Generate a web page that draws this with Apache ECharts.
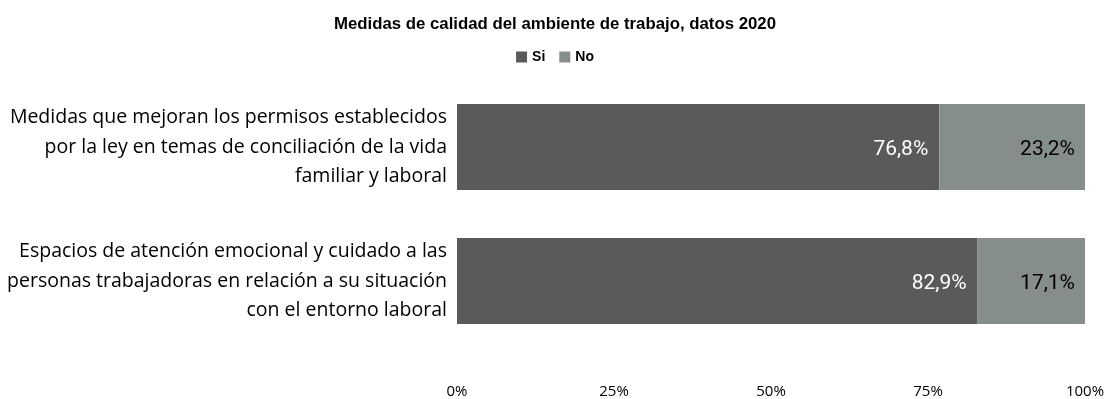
<!DOCTYPE html>
<html>
<head>
<meta charset="utf-8">
<script src="https://cdn.jsdelivr.net/npm/echarts@6/dist/echarts.min.js"></script>
<style>
  html, body { margin: 0; padding: 0; background: #ffffff; }
  #chart { width: 1110px; height: 399px; }
</style>
</head>
<body>
<div id="chart"></div>
<script>
// Categories (top to bottom) and shares per answer
const categories = [
  'Medidas que mejoran los permisos establecidos\npor la ley en temas de conciliación de la vida\nfamiliar y laboral',
  'Espacios de atención emocional y cuidado a las\npersonas trabajadoras en relación a su situación\ncon el entorno laboral'
];
const siValues = [76.8, 82.9];
const noValues = [23.2, 17.1];
const tickValues = [0, 25, 50, 75, 100];

const fmt = v => v.toFixed(1).replace('.', ',') + '%';

const chart = echarts.init(document.getElementById('chart'), null, { renderer: 'canvas' });

chart.setOption({
  animation: false,
  title: {
    text: 'Medidas de calidad del ambiente de trabajo, datos 2020',
    left: 'center',
    top: 11,
    textStyle: { fontFamily: 'Liberation Sans', fontWeight: 'bold', fontSize: 16.8, color: '#000' }
  },
  legend: {
    top: 45,
    left: 'center',
    itemWidth: 11,
    itemHeight: 11,
    itemGap: 14,
    icon: 'rect',
    textStyle: { fontFamily: 'Liberation Sans', fontWeight: 'bold', fontSize: 14, color: '#000' },
    data: ['Si', 'No']
  },
  grid: { left: 457, right: 25, top: 80, bottom: 46, containLabel: false },
  xAxis: {
    type: 'value',
    min: 0,
    max: 100,
    interval: 25,
    axisLine: { show: false },
    axisTick: { show: false },
    splitLine: { show: false },
    axisLabel: {
      margin: 36,
      fontFamily: 'Open Sans',
      fontSize: 15,
      color: '#000',
      customValues: tickValues,
      formatter: v => v + '%'
    }
  },
  yAxis: {
    type: 'category',
    inverse: true,
    data: categories,
    axisLine: { show: false },
    axisTick: { show: false },
    axisLabel: {
      margin: 10,
      fontFamily: 'Open Sans',
      fontSize: 19.5,
      lineHeight: 29.5,
      color: '#000',
      align: 'right'
    }
  },
  series: [
    {
      name: 'Si',
      type: 'bar',
      stack: 'total',
      data: siValues,
      barWidth: '64%',
      itemStyle: { color: '#5a5a58' },
      label: {
        show: true,
        position: 'insideRight',
        distance: 11,
        offset: [0, 3],
        fontFamily: 'Roboto',
        fontSize: 21,
        color: '#ffffff',
        formatter: p => fmt(p.value)
      }
    },
    {
      name: 'No',
      type: 'bar',
      stack: 'total',
      data: noValues,
      barWidth: '64%',
      itemStyle: { color: '#868e8a' },
      label: {
        show: true,
        position: 'insideRight',
        distance: 10,
        offset: [0, 3],
        fontFamily: 'Roboto',
        fontSize: 21,
        color: '#000000',
        formatter: p => fmt(p.value)
      }
    }
  ]
});
</script>
</body>
</html>
